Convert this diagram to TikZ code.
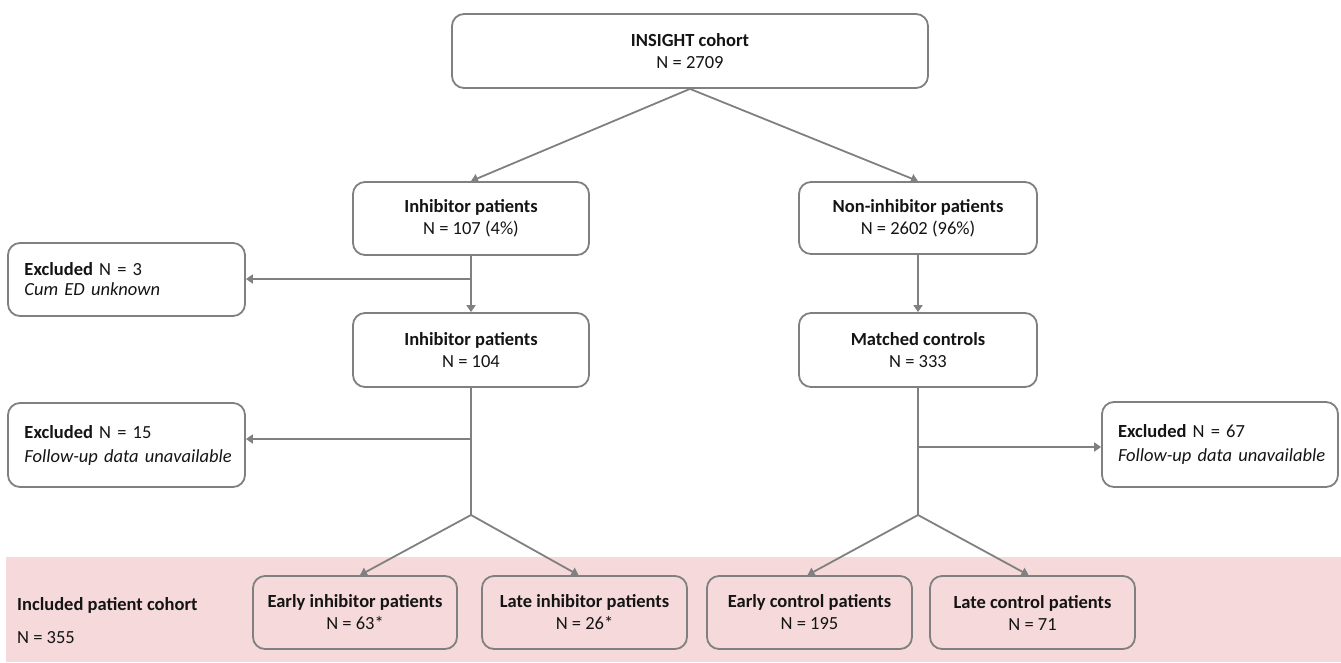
\documentclass[tikz,border=0pt]{standalone}
\usepackage{fontspec}
\setmainfont{Carlito}
\usetikzlibrary{arrows.meta,calc}
\definecolor{linegray}{RGB}{128,128,128}
\definecolor{bandpink}{RGB}{245,217,219}
\definecolor{txt}{RGB}{20,20,20}
\newcommand{\exind}{\hspace*{9pt}}
\begin{document}
\begin{tikzpicture}[x=1pt,y=-1pt,
  font=\fontsize{18.5}{22}\selectfont,
  box/.style={draw=linegray,line width=1.8pt,rounded corners=12pt,fill=white,text=txt,align=center,inner sep=0pt},
  boxnf/.style={box,fill=none},
  exbox/.style={draw=linegray,line width=1.8pt,rounded corners=12pt,fill=white,text=txt,align=left,inner sep=0pt},
  conn/.style={draw=linegray,line width=1.8pt},
  arr/.style={conn,-{Triangle[width=9pt,length=7pt]}},
  plain/.style={text=txt,inner sep=0pt,anchor=west}]
\useasboundingbox (0,0) rectangle (1341,662);
% band
\fill[bandpink] (6,557) rectangle (1341,662);
% nodes
\node[box,minimum width=476pt,minimum height=74pt] (top) at (690,51) {\textbf{INSIGHT cohort}\\N = 2709};
\node[box,minimum width=236pt,minimum height=73pt] (inh1) at (471,218.5) {\textbf{Inhibitor patients}\\N = 107 (4\%)};
\node[box,minimum width=238pt,minimum height=72pt] (non1) at (918,218) {\textbf{Non-inhibitor patients}\\N = 2602 (96\%)};
\node[box,minimum width=236pt,minimum height=74pt] (inh2) at (471,350) {\textbf{Inhibitor patients}\\N = 104};
\node[box,minimum width=238pt,minimum height=74pt] (mat) at (918,350) {\textbf{Matched controls}\\N = 333};
\node[exbox,minimum width=237pt,minimum height=73pt,text width=222pt] (exc1) at (126.5,279.5) {\exind\textbf{Excluded} N = 3\\[-2pt]\exind\textit{Cum ED unknown}};
\node[exbox,minimum width=237pt,minimum height=84pt,text width=222pt] (exc2) at (126.5,445) {\exind\textbf{Excluded} N = 15\\[2pt]\exind\textit{Follow-up data unavailable}};
\node[exbox,minimum width=236pt,minimum height=85pt,text width=222pt] (exc3) at (1220,444.5) {\exind\textbf{Excluded} N = 67\\[2pt]\exind\textit{Follow-up data unavailable}};
\node[boxnf,minimum width=204pt,minimum height=73pt] (ei) at (355,612.5) {\textbf{Early inhibitor patients}\\N = 63*};
\node[boxnf,minimum width=205pt,minimum height=73pt] (li) at (584.5,612.5) {\textbf{Late inhibitor patients}\\N = 26*};
\node[boxnf,minimum width=205pt,minimum height=73pt] (ec) at (809.5,612.5) {\textbf{Early control patients}\\N = 195};
\node[boxnf,minimum width=205pt,minimum height=73pt] (lc) at (1032.5,612.5) {\textbf{Late control patients}\\N = 71};
\node[plain] (inc) at (17,605) {\textbf{Included patient cohort}};
\node[plain] (incn) at (17,638) {N = 355};
% coordinates
\coordinate (b1) at (471,279);
\coordinate (b2) at (471,439);
\coordinate (b3) at (918,447);
\coordinate (ap1) at (471,515);
\coordinate (ap2) at (918,515);
% connectors
\draw[arr] (top.south) -- (inh1.north);
\draw[arr] (top.south) -- (non1.north);
\draw[arr] (inh1.south) -- (inh2.north);
\draw[arr] (b1) -- (b1 -| exc1.east);
\draw[arr] (non1.south) -- (mat.north);
\draw[conn] (inh2.south) -- (ap1);
\draw[arr] (b2) -- (b2 -| exc2.east);
\draw[conn] (mat.south) -- (ap2);
\draw[arr] (b3) -- (b3 -| exc3.west);
\draw[arr] (ap1) -- ($(ei.north)+(5,0)$);
\draw[arr] (ap1) -- ($(li.north)+(-6,0)$);
\draw[arr] (ap2) -- ($(ec.north)+(-2,0)$);
\draw[arr] (ap2) -- ($(lc.north)+(-4,0)$);
\end{tikzpicture}
\end{document}
